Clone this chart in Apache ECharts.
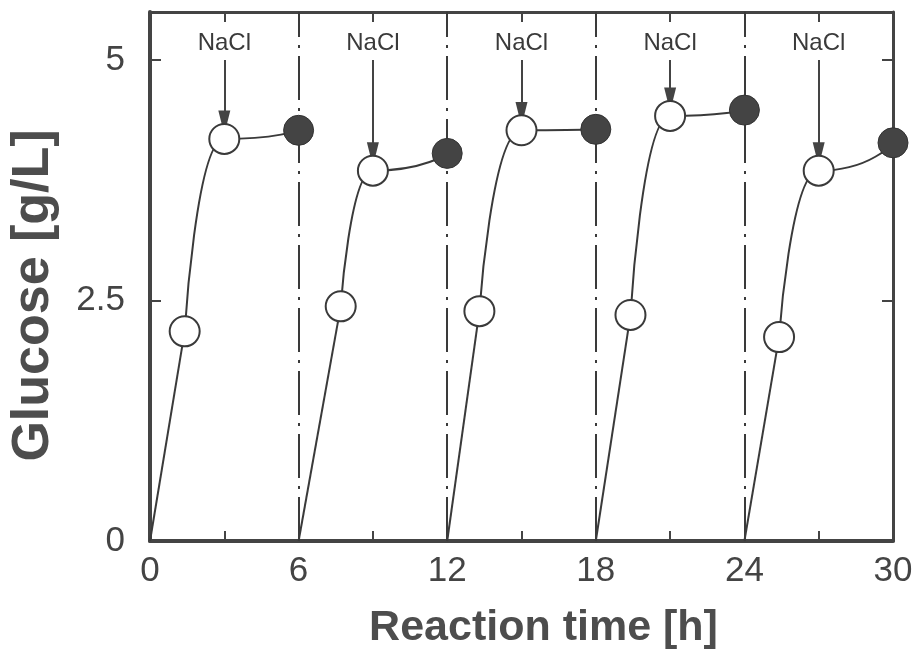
<!DOCTYPE html>
<html>
<head>
<meta charset="utf-8">
<script src="https://cdn.jsdelivr.net/npm/echarts@6/dist/echarts.min.js"></script>
<style>
html,body{margin:0;padding:0;background:#fff;}
#chart{width:916px;height:656px;}
</style>
</head>
<body>
<div id="chart"></div>
<script>
// ---- data ----
var cycleStartX = [0, 6, 12, 18, 24];
var open1X = [1.4, 7.7, 13.3, 19.4, 25.4];
var open1Y = [2.18, 2.44, 2.39, 2.35, 2.12];
var naclX = [3, 9, 15, 21, 27];
var open2Y = [4.18, 3.85, 4.27, 4.42, 3.85];
var endX = [6, 12, 18, 24, 30];
var endY = [4.27, 4.03, 4.28, 4.48, 4.14];
var xTickLabels = [0, 6, 12, 18, 24, 30];
var yTickLabels = [0, 2.5, 5];
var naclLabel = 'NaCl';

var ink = '#3a3a3a';
var series = [];
for (var i = 0; i < cycleStartX.length; i++) {
  series.push({
    type: 'line', symbol: 'none', silent: true, z: 3,
    lineStyle: {color: ink, width: 2},
    data: [[cycleStartX[i], 0], [open1X[i], open1Y[i]]]
  });
  series.push({
    type: 'line', symbol: 'none', silent: true, z: 3,
    smooth: 0.7, smoothMonotone: 'x',
    lineStyle: {color: ink, width: 2},
    data: [[open1X[i], open1Y[i]], [naclX[i], open2Y[i]], [endX[i], endY[i]]]
  });
}
// dash-dot separators
var sepData = [];
for (var j = 0; j < endX.length - 1; j++) sepData.push({xAxis: endX[j]});
// NaCl arrows
var arrowTop = 5.0, arrowGap = 0.17;
var arrowData = naclX.map(function (x, k) {
  return [{coord: [x, arrowTop]}, {coord: [x, open2Y[k] + arrowGap]}];
});
series.push({
  type: 'line', data: [], z: 2, silent: true,
  markLine: {
    silent: true, symbol: ['none', 'none'], animation: false,
    label: {show: false},
    lineStyle: {color: ink, width: 2, type: [44, 8, 3, 8]},
    data: sepData
  }
});
series.push({
  type: 'line', data: [], z: 4, silent: true,
  markLine: {
    silent: true, symbol: ['none', 'triangle'], symbolSize: [12, 24], animation: false,
    label: {show: true, position: 'start', formatter: naclLabel, distance: 5,
            fontFamily: 'Liberation Sans', fontSize: 24, color: '#3a3a3a'},
    lineStyle: {color: '#444', width: 2, type: 'solid'},
    itemStyle: {color: '#555'},
    data: arrowData
  }
});
series.push({
  type: 'scatter', z: 6, symbol: 'circle', symbolSize: 30, silent: true,
  itemStyle: {color: '#fff', borderColor: ink, borderWidth: 2, opacity: 1},
  data: open1X.map(function (x, k) { return [x, open1Y[k]]; })
        .concat(naclX.map(function (x, k) { return [x, open2Y[k]]; }))
});
series.push({
  type: 'scatter', z: 6, symbol: 'circle', symbolSize: 30, silent: true,
  itemStyle: {color: '#444', borderColor: '#333', borderWidth: 1, opacity: 1},
  data: endX.map(function (x, k) { return [x, endY[k]]; })
});

var axisFont = {fontFamily: 'Liberation Sans', fontSize: 35, color: '#444'};
var option = {
  animation: false,
  backgroundColor: '#fff',
  grid: {left: 148, right: 23, top: 12, bottom: 115},
  xAxis: [{
    type: 'value', min: 0, max: 30, interval: 3,
    name: 'Reaction time [h]', nameLocation: 'middle', nameGap: 66,
    nameTextStyle: {fontFamily: 'Liberation Sans', fontWeight: 'bold', fontSize: 43, color: '#4d4d4d', padding: [0, 0, 0, 44]},
    axisLine: {lineStyle: {color: '#444', width: 4}},
    axisTick: {inside: true, length: 10, lineStyle: {color: '#444', width: 2}},
    axisLabel: Object.assign({margin: 13, formatter: function (v) { return xTickLabels.indexOf(v) >= 0 ? String(v) : ''; }}, axisFont),
    splitLine: {show: false}
  }, {
    type: 'value', position: 'top', min: 0, max: 30, interval: 3,
    axisLine: {show: true, onZero: false, lineStyle: {color: '#444', width: 3}},
    axisTick: {inside: true, length: 10, lineStyle: {color: '#444', width: 2}},
    axisLabel: {show: false}, splitLine: {show: false}
  }],
  yAxis: [{
    type: 'value', min: 0, max: 5.5, interval: 2.5,
    name: 'Glucose [g/L]', nameLocation: 'middle', nameGap: 90,
    nameTextStyle: {fontFamily: 'Liberation Sans', fontWeight: 'bold', fontSize: 52, color: '#4d4d4d', padding: [0, 38, 0, 0]},
    axisLine: {show: true, lineStyle: {color: '#444', width: 4}},
    axisTick: {show: true, inside: true, length: 11, lineStyle: {color: '#444', width: 2}},
    axisLabel: Object.assign({margin: 25, formatter: function (v) { return yTickLabels.indexOf(v) >= 0 ? String(v) : ''; }}, axisFont),
    splitLine: {show: false}
  }, {
    type: 'value', position: 'right', min: 0, max: 5.5, interval: 2.5,
    axisLine: {show: true, onZero: false, lineStyle: {color: '#444', width: 3}},
    axisTick: {show: true, inside: true, length: 11, lineStyle: {color: '#444', width: 2}},
    axisLabel: {show: false}, splitLine: {show: false}
  }],
  series: series
};
var chart = echarts.init(document.getElementById('chart'), null, {renderer: 'canvas'});
chart.setOption(option);
</script>
</body>
</html>
